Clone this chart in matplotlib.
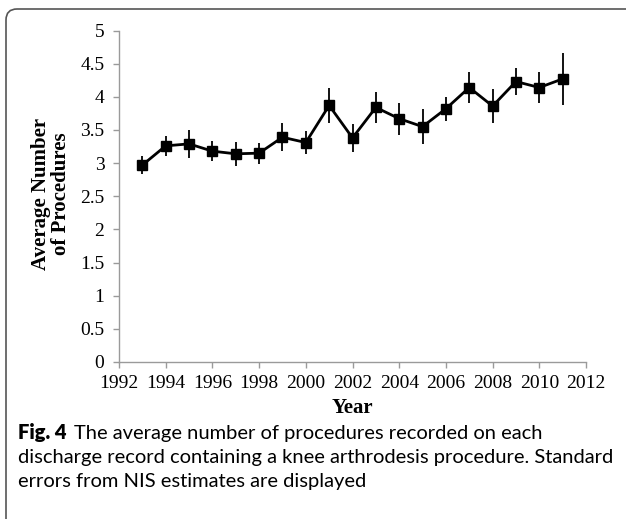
import matplotlib
matplotlib.use("Agg")
import matplotlib.pyplot as plt
from matplotlib.patches import FancyBboxPatch
from matplotlib.transforms import IdentityTransform

years = [1993, 1994, 1995, 1996, 1997, 1998, 1999, 2000, 2001, 2002,
         2003, 2004, 2005, 2006, 2007, 2008, 2009, 2010, 2011]
means = [2.97, 3.26, 3.29, 3.18, 3.14, 3.15, 3.39, 3.31, 3.87, 3.38,
         3.84, 3.67, 3.55, 3.82, 4.14, 3.86, 4.23, 4.14, 4.27]
std_err = [0.13, 0.15, 0.21, 0.15, 0.18, 0.16, 0.21, 0.17, 0.26, 0.21,
           0.23, 0.24, 0.26, 0.18, 0.23, 0.26, 0.21, 0.23, 0.39]
x_ticks = list(range(1992, 2013, 2))
y_ticks = [0, 0.5, 1, 1.5, 2, 2.5, 3, 3.5, 4, 4.5, 5]
y_tick_labels = ["0", "0.5", "1", "1.5", "2", "2.5", "3", "3.5", "4", "4.5", "5"]

W, H = 626, 519
fig = plt.figure(figsize=(W / 100, H / 100), dpi=100)

# rounded frame
frame = FancyBboxPatch((6, -20), 640, H - 9 + 20,
                       boxstyle="round,pad=0,rounding_size=11",
                       transform=IdentityTransform(), facecolor="none",
                       edgecolor="#555555", linewidth=1.2, clip_on=False)
fig.patches.append(frame)

ax_l, ax_r, ax_b, ax_t = 119, 586, 362, 30.5
ax = fig.add_axes([ax_l / W, (H - ax_b) / H, (ax_r - ax_l) / W, (ax_b - ax_t) / H])

ax.errorbar(years, means, yerr=std_err, color="black", ecolor="black",
            elinewidth=1.3, capsize=0, linewidth=2.0, marker="s",
            markersize=6.5, zorder=3)

ax.set_xlim(1992, 2012)
ax.set_ylim(0, 5)
ax.set_xticks(x_ticks)
ax.set_xticklabels([str(v) for v in x_ticks])
ax.set_yticks(y_ticks)
ax.set_yticklabels(y_tick_labels)

for s in ["top", "right"]:
    ax.spines[s].set_visible(False)
for s in ["left", "bottom"]:
    ax.spines[s].set_color("#9a9a9a")
    ax.spines[s].set_linewidth(1.0)
ax.tick_params(axis="both", direction="out", length=4.5, width=1.0,
               color="#9a9a9a", labelsize=14, labelcolor="black")
ax.tick_params(axis="x", pad=5)
ax.tick_params(axis="y", pad=6)
for lab in ax.get_xticklabels() + ax.get_yticklabels():
    lab.set_fontfamily("Liberation Serif")

fig.text(51 / W, 1 - 194 / H, "Average Number\nof Procedures", rotation=90,
         ha="center", va="center", multialignment="center", linespacing=1.0,
         fontfamily="Liberation Serif", fontweight="bold", fontsize=15)
fig.text(352 / W, 1 - 408 / H, "Year", ha="center", va="center",
         fontfamily="Liberation Serif", fontweight="bold", fontsize=15)

# caption
cap_font = "Lato"
line2 = "discharge record containing a knee arthrodesis procedure. Standard"
fig.canvas.draw()
r = fig.canvas.get_renderer()
probe = fig.text(0, 0, line2, fontfamily=cap_font, fontsize=13)
wprobe = probe.get_window_extent(r).width
probe.remove()
fs = 13 * (612 - 18) / wprobe

x0 = 18 / W
t1 = fig.text(x0, 1 - 433 / H, "Fig. 4", fontfamily=cap_font, fontweight="heavy",
              fontsize=fs, ha="left", va="center")
bb = t1.get_window_extent(r)
fig.text((bb.x1 + 8) / W, 1 - 433 / H,
         "The average number of procedures recorded on each",
         fontfamily=cap_font, fontsize=fs, ha="left", va="center")
fig.text(x0, 1 - 458 / H, line2, fontfamily=cap_font, fontsize=fs,
         ha="left", va="center")
fig.text(x0, 1 - 482 / H, "errors from NIS estimates are displayed",
         fontfamily=cap_font, fontsize=fs, ha="left", va="center")

fig.savefig("out.png", dpi=100)
